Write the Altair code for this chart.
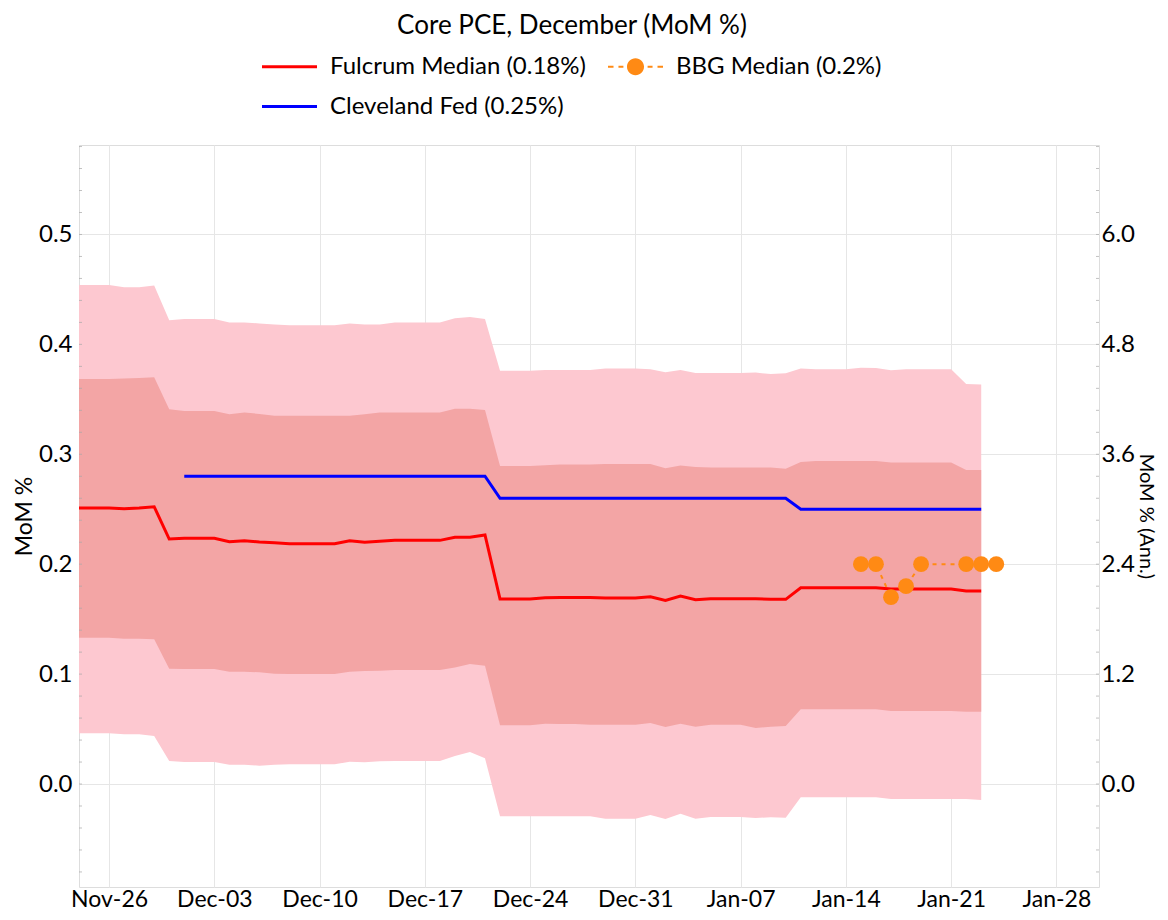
import altair as alt
import pandas as pd

# ---------------- data ----------------
dates = pd.date_range("2023-11-24", "2024-01-23", freq="D").strftime("%Y-%m-%d").tolist()

hi90 = [0.454, 0.454, 0.454, 0.452, 0.452, 0.4535, 0.422, 0.423, 0.423, 0.423,
        0.420, 0.420, 0.419, 0.418, 0.4175, 0.4175, 0.4175, 0.4175, 0.419, 0.418,
        0.418, 0.420, 0.420, 0.420, 0.420, 0.4237, 0.425, 0.423, 0.376, 0.376,
        0.376, 0.3767, 0.3767, 0.3767, 0.3767, 0.378, 0.378, 0.378, 0.3774, 0.3746,
        0.3767, 0.374, 0.374, 0.374, 0.374, 0.3743, 0.373, 0.3737, 0.378, 0.3773,
        0.3773, 0.3773, 0.3788, 0.3785, 0.3764, 0.3773, 0.3773, 0.3773, 0.3773, 0.364,
        0.3634]
hi50 = [0.3685, 0.3685, 0.3685, 0.369, 0.3695, 0.370, 0.341, 0.3394, 0.3394, 0.3394,
        0.3364, 0.338, 0.3367, 0.335, 0.335, 0.335, 0.335, 0.335, 0.335, 0.3365,
        0.338, 0.338, 0.338, 0.338, 0.338, 0.3415, 0.3415, 0.3403, 0.2894, 0.2894,
        0.2894, 0.2900, 0.2906, 0.2906, 0.2906, 0.2912, 0.2912, 0.2912, 0.2912, 0.2872,
        0.2897, 0.2885, 0.2879, 0.2879, 0.2879, 0.2879, 0.2879, 0.2869, 0.293, 0.294,
        0.294, 0.294, 0.294, 0.294, 0.2925, 0.2925, 0.2925, 0.2925, 0.2925, 0.2857,
        0.2857]
median = [0.2511, 0.2511, 0.2511, 0.2505, 0.2511, 0.2523, 0.2229, 0.2235, 0.2235, 0.2235,
          0.2205, 0.2214, 0.2202, 0.2196, 0.2187, 0.2187, 0.2187, 0.2187, 0.2214, 0.2199,
          0.2208, 0.2217, 0.2217, 0.2217, 0.2217, 0.2245, 0.2245, 0.2266, 0.1683, 0.1683,
          0.1683, 0.1695, 0.1698, 0.1698, 0.1698, 0.1692, 0.1692, 0.1692, 0.1704, 0.167,
          0.1711, 0.1677, 0.1686, 0.1686, 0.1686, 0.1686, 0.168, 0.168, 0.1786, 0.1786,
          0.1786, 0.1786, 0.1786, 0.1786, 0.1774, 0.1774, 0.1774, 0.1774, 0.1774, 0.1756,
          0.1756]
lo50 = [0.1331, 0.1331, 0.1331, 0.1322, 0.1322, 0.1316, 0.1049, 0.1046, 0.1046, 0.1046,
        0.1022, 0.1022, 0.1016, 0.1004, 0.1001, 0.1001, 0.1001, 0.1001, 0.1022, 0.1028,
        0.103, 0.1037, 0.1037, 0.1037, 0.1037, 0.1061, 0.1092, 0.1077, 0.0534, 0.0534,
        0.0534, 0.0549, 0.0546, 0.0546, 0.054, 0.054, 0.054, 0.054, 0.0555, 0.0519,
        0.0549, 0.0522, 0.054, 0.054, 0.054, 0.051, 0.0522, 0.0528, 0.068, 0.068,
        0.068, 0.068, 0.068, 0.068, 0.0664, 0.0664, 0.0664, 0.0664, 0.0664, 0.0658,
        0.0658]
lo90 = [0.0461, 0.0461, 0.0461, 0.0452, 0.0452, 0.0437, 0.0209, 0.0200, 0.0200, 0.0200,
        0.0176, 0.0176, 0.0167, 0.0176, 0.0179, 0.0179, 0.0179, 0.0179, 0.0203, 0.0197,
        0.0206, 0.0209, 0.0209, 0.0209, 0.0209, 0.0255, 0.0291, 0.0234, -0.0294, -0.0294,
        -0.0294, -0.0294, -0.0294, -0.0294, -0.0294, -0.0315, -0.0315, -0.0315, -0.0282, -0.0318,
        -0.027, -0.0315, -0.030, -0.030, -0.030, -0.0309, -0.0303, -0.0306, -0.0121, -0.0121,
        -0.0121, -0.0121, -0.0121, -0.0121, -0.0136, -0.0136, -0.0136, -0.0136, -0.0136, -0.0136,
        -0.0146]
cleveland = [None] * 7 + [0.28] * 21 + [0.26] * 20 + [0.25] * 13

bbg_dates = ["2024-01-15", "2024-01-16", "2024-01-17", "2024-01-18", "2024-01-19",
             "2024-01-22", "2024-01-23", "2024-01-24"]
bbg_values = [0.20, 0.20, 0.17, 0.18, 0.20, 0.20, 0.20, 0.20]

# legend order (column-major layout: col 1 = Fulcrum, Cleveland; col 2 = BBG)
series_names = ["Fulcrum Median (0.18%)", "Cleveland Fed (0.25%)", "BBG Median (0.2%)"]
series_colors = ["#ff0000", "#0000ff", "#ff8a14"]

x_ticks = [(2023, 11, 26), (2023, 12, 3), (2023, 12, 10), (2023, 12, 17), (2023, 12, 24),
           (2023, 12, 31), (2024, 1, 7), (2024, 1, 14), (2024, 1, 21), (2024, 1, 28)]
left_ticks = [0.0, 0.1, 0.2, 0.3, 0.4, 0.5]
right_ticks = [0.0, 1.2, 2.4, 3.6, 4.8, 6.0]
minor_ticks = [-0.08, -0.06, -0.04, -0.02, 0.0, 0.02, 0.04, 0.06, 0.08, 0.10, 0.12, 0.14,
               0.16, 0.18, 0.20, 0.22, 0.24, 0.26, 0.28, 0.30, 0.32, 0.34, 0.36, 0.38,
               0.40, 0.42, 0.44, 0.46, 0.48, 0.50, 0.52, 0.54, 0.56, 0.58]

y_domain = [-0.0937, 0.5814]
ann_factor = 12

# ---------------- frames ----------------
df = pd.DataFrame({"date": dates, "hi90": hi90, "hi50": hi50, "median": median,
                   "lo50": lo50, "lo90": lo90, "cleveland": cleveland})
bbg_df = pd.DataFrame({"date": bbg_dates, "value": bbg_values})
leg_df = pd.DataFrame({"series": series_names})
minor_df = pd.DataFrame({"v": minor_ticks})

FONT = "Lato"
ORANGE = "#ff8a14"
GRID = "#e6e6e6"
W, H = 1020, 742

xscale = alt.Scale(type="utc",
                   domain=[alt.DateTime(year=2023, month=11, date=24, utc=True),
                           alt.DateTime(year=2024, month=1, date=30, hours=20, utc=True)])
xaxis = alt.Axis(values=[alt.DateTime(year=y, month=m, date=d, utc=True) for y, m, d in x_ticks],
                 format="%b-%d", labelFontSize=23, labelPadding=1, ticks=False, domain=False,
                 grid=True, gridColor=GRID, labelColor="black", labelFont=FONT)
yscale = alt.Scale(domain=y_domain, nice=False, zero=False)
yaxis = alt.Axis(values=left_ticks, format=".1f", labelFontSize=24, labelPadding=7,
                 ticks=False, domain=False, grid=True, gridColor=GRID,
                 title="MoM %", titleFontSize=23, titleFontWeight="normal", titlePadding=2,
                 labelColor="black", titleColor="black", labelFont=FONT, titleFont=FONT)

X = alt.X("date:T", scale=xscale, axis=xaxis, title=None)

def Y(field):
    return alt.Y(field, scale=yscale, axis=yaxis, title="MoM %")

base = alt.Chart(df)

outer = base.mark_area(color="#fdc8d0", opacity=1).encode(x=X, y=Y("lo90:Q"), y2="hi90:Q")
inner = base.mark_area(color="#f3a5a5", opacity=1).encode(x=X, y=Y("lo50:Q"), y2="hi50:Q")
med_line = base.mark_line(color="#ff0000", strokeWidth=3).encode(x=X, y=Y("median:Q"))
cle_line = base.mark_line(color="#0000ff", strokeWidth=3).encode(x=X, y=Y("cleveland:Q"))
bbg_line = alt.Chart(bbg_df).mark_line(color=ORANGE, strokeWidth=2, strokeDash=[4, 5]).encode(
    x=X, y=Y("value:Q"))
bbg_pts = alt.Chart(bbg_df).mark_circle(color=ORANGE, size=250, opacity=1).encode(
    x=X, y=Y("value:Q"))

# small inward minor ticks on both vertical frame edges
minor_left = alt.Chart(minor_df).mark_tick(orient="horizontal", color="#a8a8a8", size=3,
                                           thickness=1).encode(x=alt.value(1.5), y=Y("v:Q"))
minor_right = alt.Chart(minor_df).mark_tick(orient="horizontal", color="#a8a8a8", size=3,
                                            thickness=1).encode(x=alt.value(W - 1.5), y=Y("v:Q"))

line_path = "M-1,-0.055H1V0.055H-1Z"
bbg_path = ("M-1,-0.04H-0.8V0.04H-1Z M-0.62,-0.04H-0.44V0.04H-0.62Z "
            "M0.44,-0.04H0.62V0.04H0.44Z M0.8,-0.04H1V0.04H0.8Z "
            "M-0.31,0A0.31,0.31 0 1,0 0.31,0A0.31,0.31 0 1,0 -0.31,0Z")

legend = alt.Legend(title="Core PCE, December (MoM %)", orient="none", legendX=183, legendY=-132,
                    columns=2, symbolSize=3025, symbolStrokeWidth=0, labelFontSize=24,
                    labelOffset=13, labelLimit=600, titleLimit=900, titleFontSize=26,
                    titleFontWeight="normal", titleAnchor="middle", titlePadding=0,
                    rowPadding=0, columnPadding=22,
                    labelFont=FONT, titleFont=FONT, labelColor="black", titleColor="black",
                    padding=0)

legend_layer = alt.Chart(leg_df).mark_point(filled=True, size=0, opacity=1).encode(
    x=alt.value(0), y=alt.value(0),
    color=alt.Color("series:N", scale=alt.Scale(domain=series_names, range=series_colors),
                    legend=legend),
    shape=alt.Shape("series:N", scale=alt.Scale(domain=series_names,
                                                range=[line_path, line_path, bbg_path]),
                    legend=legend),
)

left = alt.layer(outer, inner, med_line, cle_line, bbg_line, bbg_pts,
                 minor_left, minor_right, legend_layer)

right_axis = alt.Axis(values=right_ticks, format=".1f", labelFontSize=24, labelPadding=2,
                      ticks=False, domain=False, grid=False, orient="right",
                      title="MoM % (Ann.)", titleFontSize=20, titleFontWeight="normal",
                      titlePadding=1, labelColor="black", titleColor="black",
                      labelFont=FONT, titleFont=FONT)
right = base.mark_line(opacity=0).transform_calculate(ann=f"datum.median * {ann_factor}").encode(
    x=X,
    y=alt.Y("ann:Q", scale=alt.Scale(domain=[v * ann_factor for v in y_domain], nice=False,
                                     zero=False), axis=right_axis, title="MoM % (Ann.)"))

chart = alt.layer(left, right).resolve_scale(y="independent").properties(
    width=W, height=H, background="white",
    padding={"left": 5, "top": 5, "right": 4, "bottom": 0}
).configure_view(stroke="#a8a8a8", strokeWidth=1).configure(font=FONT)

chart.save("out.html", embed_options={"renderer": "svg", "actions": False})
